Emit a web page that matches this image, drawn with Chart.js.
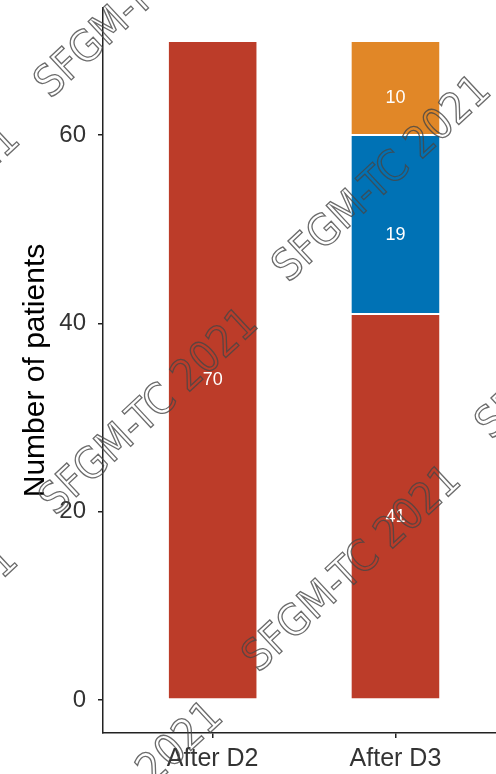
<!DOCTYPE html>
<html>
<head>
<meta charset="utf-8">
<script src="https://cdn.jsdelivr.net/npm/chart.js@4.4.0/dist/chart.umd.min.js"></script>
<style>
  html, body { margin: 0; padding: 0; background: #fff; overflow: hidden; }
</style>
</head>
<body>
<canvas id="plot" width="496" height="774"></canvas>
<script>
const categories = ['After D2', 'After D3'];
const redCounts = [70, 41];
const blueCounts = [null, 19];
const orangeCounts = [null, 10];
const yTicks = [0, 20, 40, 60];
const yTitle = 'Number of patients';
const watermarkText = 'SFGM-TC 2021';

// centres of the tiled watermark stamps
const stampCentres = [
  [145, -4], [-88, 229], [150, 413], [383, 180],
  [586, 337], [-90, 650], [353, 570], [115, 806]
];

const FONT = '"Liberation Sans", Arial, Helvetica, sans-serif';
const NARROW = '"Liberation Sans Narrow", "DejaVu Sans Condensed", sans-serif';
const AXIS = '#222';

function toPoints(values) {
  return values.map(function(v, i) {
    return { x: i + 1, y: v };
  });
}

function createDataset(label, values, color) {
  return {
    label,
    data: toPoints(values),
    backgroundColor: color,
    borderColor: '#fff',
    borderWidth: 1,
    borderSkipped: false,
    barPercentage: 0.49,
    categoryPercentage: 1,
  };
}

const whiteBackground = {
  id: 'white_background',
  beforeDraw: (chart) => {
    const ctx = chart.ctx;
    ctx.save();
    ctx.fillStyle = '#fff';
    ctx.fillRect(0, 0, chart.width, chart.height);
    ctx.restore();
  }
};

const barLabels = {
  id: 'bar_labels',
  afterDatasetsDraw: (chart) => {
    const ctx = chart.ctx;
    ctx.save();
    ctx.fillStyle = '#fff';
    ctx.font = '18px ' + FONT;
    ctx.textAlign = 'center';
    ctx.textBaseline = 'middle';
    chart.data.datasets.forEach((ds, i) => {
      chart.getDatasetMeta(i).data.forEach((bar, j) => {
        const v = ds.data[j].y;
        if (v == null) return;
        ctx.fillText(String(v), bar.x, (bar.y + bar.base) / 2 + 10);
      });
    });
    ctx.restore();
  }
};

const watermark = {
  id: 'watermark',
  afterDraw: (chart) => {
    const ctx = chart.ctx;
    ctx.save();
    ctx.font = '43px ' + NARROW;
    ctx.textAlign = 'center';
    ctx.textBaseline = 'middle';
    ctx.strokeStyle = 'rgba(70, 70, 70, 0.8)';
    ctx.lineWidth = 1.3;
    stampCentres.forEach((c) => {
      ctx.save();
      ctx.translate(c[0], c[1]);
      ctx.rotate(-43 * Math.PI / 180);
      ctx.strokeText(watermarkText, 0, 0);
      ctx.restore();
    });
    ctx.restore();
  }
};

const stackedChart = {
  type: 'bar',
  plugins: [whiteBackground, barLabels, watermark],
  data: {
    datasets: [
      createDataset('red', redCounts, '#BC3C29'),
      createDataset('blue', blueCounts, '#0072B5'),
      createDataset('orange', orangeCounts, '#E18727'),
    ],
  },
  options: {
    responsive: false,
    animation: false,
    devicePixelRatio: 1,
    layout: {
      padding: { left: 14, top: 8, right: 0, bottom: 0 }
    },
    plugins: {
      legend: { display: false },
      tooltip: { enabled: false },
    },
    scales: {
      x: {
        type: 'linear',
        stacked: true,
        offset: false,
        min: 0.4,
        max: 2.55,
        afterBuildTicks: (scale) => {
          scale.ticks = categories.map((c, i) => ({ value: i + 1 }));
        },
        afterFit: (scale) => {
          scale.paddingLeft = 0;
          scale.paddingRight = 0;
          scale.height = 41;
        },
        ticks: {
          callback: (v) => categories[Math.round(v) - 1],
          color: '#333',
          padding: 6,
          maxRotation: 0,
          font: { family: FONT, size: 25 },
        },
        grid: {
          offset: false,
          drawOnChartArea: false,
          drawTicks: true,
          tickLength: 5,
          color: AXIS,
          lineWidth: 1.5,
        },
        border: { display: true, color: AXIS, width: 1.5 },
      },
      y: {
        stacked: true,
        min: -3.5,
        max: 73.5,
        afterBuildTicks: (scale) => {
          scale.ticks = yTicks.map((v) => ({ value: v }));
        },
        afterFit: (scale) => {
          scale.paddingTop = 0;
          scale.paddingBottom = 0;
          scale.width = 89;
        },
        ticks: {
          color: '#333',
          padding: 12,
          font: { family: FONT, size: 24 },
        },
        grid: {
          drawOnChartArea: false,
          drawTicks: true,
          tickLength: 5,
          color: AXIS,
          lineWidth: 1.5,
        },
        border: { display: true, color: AXIS, width: 1.5 },
        title: {
          display: true,
          text: yTitle,
          color: '#000',
          padding: { top: 4, bottom: 4 },
          font: { family: FONT, size: 30 },
        },
      }
    }
  },
};

const canvas = document.getElementById('plot');
const chart = new Chart(canvas.getContext('2d'), stackedChart);
</script>
</body>
</html>
